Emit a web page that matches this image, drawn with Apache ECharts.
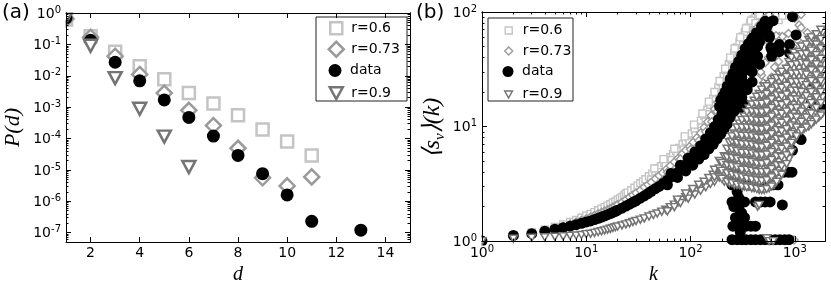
<!DOCTYPE html>
<html><head><meta charset="utf-8">
<script src="https://cdn.jsdelivr.net/npm/echarts@6/dist/echarts.min.js"></script>
<style>html,body{margin:0;padding:0;background:#fff}#c{width:831px;height:290px}</style>
</head><body><div id="c"></div>
<script>
// ---------- Panel (a): P(d) vs d ----------
const aD_r06 = [1,2,3,4,5,6,7,8,9,10,11];
const aP_r06 = [0.62,0.18,0.058,0.020,0.0078,0.0028,0.0013,0.00055,0.000195,0.00008,0.000029];
const aD_r073 = [1,2,3,4,5,6,7,8,9,10,11];
const aP_r073 = [0.65,0.17,0.042,0.011,0.0028,0.00079,0.00026,0.000049,0.0000056,0.0000031,0.000006];
const aD_data = [1,2,3,4,5,6,7,8,9,10,11,13];
const aP_data = [0.7,0.135,0.027,0.0069,0.0017,0.00047,0.00012,0.000029,0.0000076,0.0000016,0.00000023,0.00000012];
const aD_r09 = [1,2,3,4,5,6];
const aP_r09 = [0.72,0.09,0.0084,0.00089,0.000115,0.0000124];
const aXTicks = [2,4,6,8,10,12,14];
const aYDecades = [-7,-6,-5,-4,-3,-2,-1,0];

// ---------- Panel (b): <s_v>(k) vs k, pairs [k, s] ----------
const bR06 = [
[1,1.0],[2,1.12],[3,1.19],[4,1.26],[5,1.33],[6,1.4],[7,1.47],[8,1.53],[9,1.6],[10,1.67],[11,1.73],[12,1.79],[13,1.86],[14,1.92],[15,1.98],[16,2.04],[17,2.1],[18,2.17],[19,2.22],[20,2.3],[21,2.36],[22,2.42],[23,2.5],[24,2.6],[25,2.65],[27,2.78],[29,2.92],[31,3.05],[33,3.2],[35,3.32],[37,3.47],[40,3.68],[43,3.88],[46,4.08],[49,4.3],[52,4.5],[56,4.8],[60,5.1],[64,5.4],[68,5.75],[73,6.1],[78,6.5],[84,7.0],[90,7.5],[96,8.0],[103,8.7],[110,9.4],[118,10.3],[126,11.2],[135,12.5],[145,14],[155,15.5],[165,17.5],[175,19.5],[185,22],[196,24.5],[208,27.5],[220,31],[233,35],[247,39],[262,44],[278,49],[295,55],[313,61],[332,67],[352,73],[374,80],[397,86],[421,92],[447,97],
[42,3.45],[50,4.0],[58,4.6],[66,5.1],[75,5.6],[86,6.3],[98,7.3],[112,8.4],[128,9.8],[140,11],[152,12.8],[170,15.5],[190,19],[205,22],[225,27],[250,33],[270,38],[290,45],[320,52],[345,58],[380,66],[420,75],[470,82],[530,88],
[45,4.3],[55,5.2],[70,6.4],[88,8.2],[108,10.4],[130,13],[150,16.5],[170,20],[190,25],[215,32],[240,40],[265,48],[300,60],[340,72],[380,84],[460,94],
[420,80],[480,72],[540,78],[600,90],[650,95],[700,85],[760,93],[500,62],[560,66],[440,66],[1430,21]
];
const bR073 = [
[1,1.0],[2,1.11],[3,1.17],[4,1.23],[5,1.29],[6,1.35],[7,1.41],[8,1.47],[9,1.52],[10,1.57],[11,1.62],[12,1.68],[13,1.73],[14,1.78],[15,1.83],[16,1.88],[17,1.93],[18,1.98],[19,2.03],[20,2.08],[22,2.18],[24,2.3],[26,2.42],[28,2.52],[30,2.63],[33,2.78],[36,2.95],[39,3.1],[42,3.27],[46,3.5],[50,3.72],[54,3.95],[59,4.25],[64,4.55],[70,4.9],[76,5.3],[83,5.75],[90,6.2],[98,6.7],[106,7.3],[115,8.0],[125,8.8],[135,9.8],[146,11],[158,12.5],[170,14.2],[183,16.2],[196,18.5],[210,21],[225,24],[240,27.5],[256,31],[273,35],[290,39],[310,44],[330,49],[352,54],[375,60],[400,66],[430,72],[460,78],[495,84],[530,90],[570,95],
[60,4.0],[80,5.2],[100,6.3],[120,7.5],[140,9.0],[160,11],[180,13.5],[200,16],[220,19.5],[245,23],[270,28],[300,33],[330,38],[360,44],
[1100,77],[1320,66],[1540,63],[1150,95],[710,61],[790,54],[1060,41],[1320,36],[930,32],[1230,29],[740,24.5],[480,28],[1000,88],[1150,73],[1430,61],[1700,58],[1060,57],[760,61],[830,47],[650,43],[700,37],[890,35],[600,50],[660,62],[560,55],[870,65],[960,50],[1250,48],[1100,22],[960,20],[1750,52],[1850,68],[1300,44],[1600,40],[470,30],[520,36],[560,40],[500,24],[540,20],[600,27],[640,33],[985,1.02]
];
const bData = [
[1,1.0],[2,1.12],[3,1.16],[4,1.22],[5,1.27],[6,1.31],[7,1.35],[8,1.39],[9,1.43],[10,1.47],[11,1.5],[12,1.54],[13,1.58],[14,1.62],[15,1.66],[16,1.7],[17,1.74],[18,1.78],[19,1.82],[20,1.86],[22,1.94],[24,2.02],[26,2.1],[28,2.18],[30,2.25],[33,2.37],[36,2.48],[39,2.6],[42,2.72],[46,2.87],[50,3.0],[55,3.2],[60,3.4],[66,3.65],[72,3.9],[79,4.15],[86,4.45],[94,4.75],[102,5.1],[111,5.5],[120,5.9],[130,6.35],[140,6.9],[150,7.4],[160,8.0],[170,8.7],[180,9.4],[190,10.2],[200,11.2],[212,12.5],[225,14],[240,16],[255,18.5],[270,21],[285,24],[300,27],[318,30],[336,34],[355,38],[375,43],[400,49],[430,56],[460,63],[500,70],[550,77],[620,84],
[60,3.1],[75,3.6],[90,4.1],[105,4.6],[120,5.2],[135,5.7],[150,6.4],[165,7.0],[180,7.8],[195,8.6],[210,9.5],[225,10.5],[240,12],[260,13.5],
[65,3.9],[80,4.6],[95,5.3],[110,6.0],[125,6.8],[140,7.8],[155,8.8],[170,10],[185,11.5],[200,13],[215,15],[230,17.5],[250,21],[265,25],[280,28],[300,32],[320,37],[340,42],[360,46],[380,52],[410,58],
[190,15],[195,17],[205,18.5],[215,20],[225,22.5],[240,26],[255,29],[270,33],[290,37],[310,42],[335,48],[360,53],[390,58],
[250,16],[270,19],[290,22],[310,27],[330,31],[350,35],[380,40],[410,45],[440,50],[300,34],[330,40],[360,46],[400,60],[430,66],[480,75],[520,83],[280,30],[320,24],[350,21],[390,30],[290,20],[310,18],[330,23],[300,14.5],[320,16],[280,17],[370,33],[410,36],[440,41],
[1030,63],[890,52],[710,45],[760,29],[930,28],[1170,44],[1600,23.6],[1800,14.4],[1430,16],[600,41],[600,47],[570,62],[460,55],[530,70],[570,60],[590,49],[460,35],[710,52],[950,91],[1100,42],[890,44],[890,29],[1460,24.5],[390,24.5],[790,23.6],[950,8],[1150,7.7],[950,6.2],[610,5.7],[760,8.4],[1100,8],[660,4.1],[790,19.4],
[600,4.0],[660,4.0],[720,4.0],[790,4.0],[870,4.0],[940,4.0],
[250,3.1],[275,3.1],[300,3.1],[330,3.1],[370,3.1],[410,3.1],[450,3.1],[500,3.1],[560,3.1],[620,3.1],[690,3.1],
[250,2.2],[270,2.2],[300,2.2],[330,2.2],[420,2.2],[470,2.2],[520,2.2],[580,2.2],[760,2.07],
[260,2.0],[290,2.0],[270,1.6],[300,1.6],[330,1.6],
[255,1.35],[280,1.35],[310,1.35],[340,1.35],[380,1.35],[420,1.35],
[250,1.03],[280,1.03],[310,1.03],[340,1.03],[380,1.03],[420,1.03],[470,1.03],[520,1.03],[580,1.03],[650,1.03],[720,1.03],[800,1.03],[880,1.03],
[260,4.2],[270,3.6],[280,2.7],[290,2.4],[300,1.8],[310,1.75],[320,1.5],[300,1.2]
];
const bR09 = [
[1,1.0],[2,1.05],[3,1.07],[4,1.08],[5,1.09],[6,1.1],[7,1.11],[8,1.12],[9,1.13],[10,1.15],[11,1.16],[12,1.18],[13,1.2],[14,1.22],[15,1.24],[16,1.26],[17,1.28],[18,1.3],[19,1.32],[20,1.34],[22,1.37],[24,1.4],[26,1.43],[28,1.47],[30,1.5],[33,1.54],[36,1.58],[40,1.64],[44,1.69],[48,1.74],[53,1.81],[58,1.88],[64,1.98],[70,2.08],[76,2.18],[83,2.3],[90,2.42],[98,2.55],[106,2.68],[115,2.8],[125,2.93],[135,3.05],[146,3.2],[158,3.35],[170,3.5],[183,3.7],[196,3.9],
[60,1.82],[70,1.98],[80,2.15],[95,2.35],[110,2.55],[125,2.75],[140,2.95],[155,3.15],[170,3.3],[75,2.3],[90,2.6],[105,2.85],[120,3.1],[135,3.3],[150,3.55],[165,3.8],
[610,5.1],[300,3.5],[360,3.0],[410,3.3],[440,2.0],[540,1.06],[570,1.0],[620,1.0],[455,2.07]
];
// r=0.9 fan at large k: one k per column, with the s values read in that column
const bR09FanK = [170,189,211,236,263,294,328,366,408,456,509,568,634,707,789,880,982,1096,1223,1365,1523,1700,1850,
                  200,224,250,279,311,347,387,432,482,538,600,670,748,834,930,1040,1160,1290,1440,1610,1780];
const bR09FanS = [
[3.6,4.2],
[3.6,4.3,5.0],
[3.3,3.9,4.6,5.5],
[3.2,3.8,4.5,5.3,6.3,7.3],
[3.1,3.7,4.4,5.2,6.2,7.4,8.7],
[3.1,3.7,4.4,5.3,6.3,7.5,9.0,10.6],
[3.0,3.6,4.3,5.1,6.1,7.3,8.7,10.4,12.2],
[3.0,3.6,4.3,5.1,6.1,7.3,8.7,10.4,12.4,14.4],
[2.9,3.4,4.1,4.9,5.9,7.0,8.4,10.0,12.0,14.3,16.8],
[2.8,3.3,4.0,4.8,5.7,6.8,8.1,9.7,11.6,13.8,16.5,19.3],
[2.8,3.4,4.0,4.8,5.7,6.8,8.1,9.7,11.6,13.8,16.5,19.7,22.5],
[2.9,3.5,4.1,4.9,5.8,6.9,8.3,9.9,11.8,14.1,16.8,20,23.5],
[3.1,3.7,4.4,5.3,6.3,7.5,9.0,10.7,12.8,15.3,18.3,21.8,26],
[3.5,4.1,4.9,5.8,6.9,8.3,9.9,11.8,14.1,16.8,20,24,28.5],
[4.3,5.1,6.1,7.3,8.7,10.4,12.4,14.8,17.7,21,25,30],
[5.2,6.2,7.4,8.8,10.5,12.5,15,18,21.5,25.5,30.5,36.5],
[7.5,9,11,13,15.5,18.5,22,27,32,38,44],
[9,11,13.5,16,19,23,27,32,38,45],
[9.5,12,14.5,18,22,27,33,40,48],
[10,13,17,21,26,32,39,48,57],
[11,14.5,19,24,30,37,45,55],
[12,16,21,26,32,40,50,63],
[13,18,24,30,38,48,66],
[3.5,4.1,4.8],
[3.3,3.9,4.6,5.4,6.4],
[3.2,3.8,4.5,5.3,6.3,7.4,8.2],
[3.1,3.7,4.4,5.2,6.1,7.2,8.5,9.8],
[3.0,3.6,4.2,5.0,5.9,7.0,8.3,9.8,11.4],
[2.95,3.5,4.2,5.0,5.9,7.0,8.3,9.8,11.5,13.4],
[2.9,3.45,4.1,4.9,5.8,6.9,8.2,9.7,11.5,13.6,15.6],
[2.85,3.4,4.0,4.75,5.6,6.7,8.0,9.5,11.3,13.4,15.8,18.2],
[2.8,3.35,4.0,4.7,5.6,6.6,7.9,9.4,11.2,13.3,15.8,18.6,21],
[2.85,3.4,4.0,4.8,5.7,6.8,8.1,9.6,11.4,13.6,16.2,19.2,22.5],
[3.0,3.6,4.25,5.1,6.0,7.2,8.6,10.2,12.2,14.5,17.3,20.6,24.5],
[3.3,3.9,4.6,5.5,6.6,7.8,9.3,11.1,13.2,15.7,18.7,22.3,26.5],
[3.8,4.5,5.4,6.4,7.6,9.1,10.8,12.9,15.4,18.3,21.8,26,30],
[4.7,5.6,6.7,8.0,9.5,11.3,13.5,16,19,22.7,27,32],
[6.0,7.2,8.6,10.2,12.2,14.5,17.3,20.6,24.5,29,34.5,40],
[8.2,9.8,12,14.5,17.2,20.5,24.5,29,35,41],
[9.2,11,13.5,16.5,20,24.5,29.5,36,43,50],
[9.8,12,15,18.5,23,28.5,35,43,52],
[10.5,13,16,20,25,31,38,46,55,60],
[11.5,14.5,18,22.5,28,35,42,52,64],
[12.5,16,20,25,31,39,48,58,70]
];
const bXDecades = [0,1,2,3];
const bYDecades = [0,1,2];

// ---------- build ----------
const FONT = 'DejaVu Sans';
const C06 = '#c4c4c4', C073 = '#9a9a9a', C09 = '#747474';
const TRI = 'path://M0,0L12,0L6,11Z';

function logMinor(lo, hi) {
  const out = [];
  for (let e = Math.floor(lo) - 1; e < Math.ceil(hi); e++)
    for (let m = 2; m <= 9; m++) { const v = e + Math.log10(m); if (v > lo && v < hi) out.push(v); }
  return out;
}
const supRich = {
  b: {fontSize: 14, fontFamily: FONT, color: '#000', verticalAlign: 'bottom'},
  s: {fontSize: 10, fontFamily: FONT, color: '#000', verticalAlign: 'bottom', padding: [0, 0, 6, 0]}
};
function supFmt(v) { return '{b|10}{s|' + Math.round(v) + '}'; }

function ax(grid, pos, min, max, ticks, len, label, extra) {
  const o = {
    type: 'value', gridIndex: grid, position: pos, min: min, max: max, z: 10,
    axisLine: {show: true, onZero: false, lineStyle: {color: '#000', width: 1}},
    splitLine: {show: false},
    axisTick: {show: true, inside: true, length: len, customValues: ticks, lineStyle: {color: '#000', width: 1}},
    axisLabel: label || {show: false}
  };
  return Object.assign(o, extra || {});
}
const aYMin = -7.3, aYMax = 0;
const bXMin = 0, bXMax = 3.29, bYMin = 0, bYMax = 2;
const aYMinor = logMinor(aYMin, aYMax);
const bXMinor = logMinor(bXMin, bXMax);
const bYMinor = logMinor(bYMin, bYMax);
const nameStyle = {fontFamily: 'Liberation Serif', fontStyle: 'italic', fontSize: 20, color: '#000'};

const xAxis = [
  ax(0, 'bottom', 1, 15, aXTicks, 5, {customValues: aXTicks, fontSize: 14, fontFamily: FONT, color: '#000', margin: 4},
     {name: 'd', nameLocation: 'middle', nameGap: 22, nameTextStyle: nameStyle}),
  ax(0, 'top', 1, 15, aXTicks, 5),
  ax(1, 'bottom', bXMin, bXMax, bXDecades, 5, {customValues: bXDecades, formatter: supFmt, rich: supRich, margin: 3},
     {name: 'k', nameLocation: 'middle', nameGap: 22, nameTextStyle: nameStyle}),
  ax(1, 'bottom', bXMin, bXMax, bXMinor, 2.5),
  ax(1, 'top', bXMin, bXMax, bXDecades, 5),
  ax(1, 'top', bXMin, bXMax, bXMinor, 2.5)
];
const yAxis = [
  ax(0, 'left', aYMin, aYMax, aYDecades, 5, {customValues: aYDecades, formatter: supFmt, rich: supRich, margin: 5},
     {name: 'P(d)', nameLocation: 'middle', nameGap: 42, nameTextStyle: Object.assign({}, nameStyle, {fontSize: 22})}),
  ax(0, 'left', aYMin, aYMax, aYMinor, 2.5),
  ax(0, 'right', aYMin, aYMax, aYDecades, 5),
  ax(0, 'right', aYMin, aYMax, aYMinor, 2.5),
  ax(1, 'left', bYMin, bYMax, bYDecades, 5, {customValues: bYDecades, formatter: supFmt, rich: supRich, margin: 5}),
  ax(1, 'left', bYMin, bYMax, bYMinor, 2.5),
  ax(1, 'right', bYMin, bYMax, bYDecades, 5),
  ax(1, 'right', bYMin, bYMax, bYMinor, 2.5)
];

const toA = (ds, ps) => ds.map((d, i) => [d, Math.log10(ps[i])]);
const toB = pts => pts.map(p => [Math.log10(p[0]), Math.log10(p[1])]);
const fanPts = [];
bR09FanK.forEach((k, i) => bR09FanS[i].forEach(s => fanPts.push([k, s])));

function sc(name, data, xi, yi, symbol, size, style, z) {
  return {type: 'scatter', name: name, xAxisIndex: xi, yAxisIndex: yi, data: data, symbol: symbol,
    symbolSize: size, itemStyle: Object.assign({opacity: 1}, style), z: z, emphasis: {disabled: true}, animation: false, large: false};
}
const series = [
  sc('r=0.6', toA(aD_r06, aP_r06), 0, 0, 'rect', 12, {color: '#fff', borderColor: C06, borderWidth: 2.5}, 2),
  sc('r=0.73', toA(aD_r073, aP_r073), 0, 0, 'diamond', 15, {color: '#fff', borderColor: C073, borderWidth: 2.5}, 3),
  sc('data', toA(aD_data, aP_data), 0, 0, 'circle', 13, {color: '#000'}, 4),
  sc('r=0.9', toA(aD_r09, aP_r09), 0, 0, TRI, [13, 12], {color: '#fff', borderColor: C09, borderWidth: 2.5}, 5),
  sc('b:r=0.6', toB(bR06), 2, 4, 'rect', 7, {color: '#fff', borderColor: C06, borderWidth: 1.4}, 2),
  sc('b:r=0.73', toB(bR073), 2, 4, 'diamond', 8, {color: '#fff', borderColor: C073, borderWidth: 1.4}, 3),
  sc('b:data', toB(bData), 2, 4, 'circle', 11, {color: '#000'}, 4),
  sc('b:r=0.9', toB(bR09.concat(fanPts)), 2, 4, TRI, [8, 7], {color: '#fff', borderColor: C09, borderWidth: 1.5}, 5)
];

function lg(name, label, icon, cx, cy, w, h, style, textX) {
  return {show: true, z: 12, data: [{name: name, icon: icon}], left: cx - w / 2, top: cy - h / 2,
    itemWidth: w, itemHeight: h, padding: 0, selectedMode: false, itemStyle: Object.assign({opacity: 1}, style), formatter: label,
    textStyle: {fontSize: 14, fontFamily: FONT, color: '#000', padding: [0, 0, 0, textX - (cx + w / 2) - 5]}};
}
const legend = [
  lg('r=0.6', 'r=0.6', 'rect', 335, 27, 12, 12, {color: '#fff', borderColor: C06, borderWidth: 2.5}, 350),
  lg('r=0.73', 'r=0.73', 'diamond', 335, 48, 15, 15, {color: '#fff', borderColor: C073, borderWidth: 2.5}, 350),
  lg('data', 'data', 'circle', 335, 70, 13, 13, {color: '#000', borderWidth: 0}, 350),
  lg('r=0.9', 'r=0.9', TRI, 335, 92, 13, 12, {color: '#fff', borderColor: C09, borderWidth: 2.5}, 350),
  lg('b:r=0.6', 'r=0.6', 'rect', 508, 27, 7, 7, {color: '#fff', borderColor: C06, borderWidth: 1.4}, 522),
  lg('b:r=0.73', 'r=0.73', 'diamond', 508, 48, 8, 8, {color: '#fff', borderColor: C073, borderWidth: 1.4}, 522),
  lg('b:data', 'data', 'circle', 508, 70, 11, 11, {color: '#000', borderWidth: 0}, 522),
  lg('b:r=0.9', 'r=0.9', TRI, 508, 91, 8, 7, {color: '#fff', borderColor: C09, borderWidth: 1.5}, 522)
];

// white masks outside the plot frames (clip markers like the original)
const mask = (x, y, w, h) => ({type: 'rect', z: 8, silent: true, shape: {x: x, y: y, width: w, height: h}, style: {fill: '#fff', stroke: null}});

const chart = echarts.init(document.getElementById('c'), null, {renderer: 'canvas'});
chart.setOption({
  animation: false,
  backgroundColor: '#fff',
  grid: [
    {left: 66, top: 13, width: 344, height: 232, containLabel: false},
    {left: 482, top: 12, width: 343, height: 233, containLabel: false}
  ],
  xAxis: xAxis,
  yAxis: yAxis,
  legend: legend,
  series: series,
  graphic: [
    mask(40, 0, 25.5, 40), mask(55, 0, 360, 12.5),
    mask(466, 225, 15.5, 30), mask(470, 245.5, 361, 7), mask(470, 0, 361, 11.5), mask(825.5, 0, 6, 260),
    {type: 'rect', z: 9, shape: {x: 316, y: 17, width: 91, height: 84}, style: {fill: 'none', stroke: '#222', lineWidth: 1}},
    {type: 'rect', z: 1, shape: {x: 488, y: 18, width: 85, height: 83}, style: {fill: '#fff', stroke: '#222', lineWidth: 1}},
    {type: 'text', z: 20, left: 2, top: 3, style: {text: '(a)', font: '20px "DejaVu Sans"', fill: '#000'}},
    {type: 'text', z: 20, left: 416, top: 3, style: {text: '(b)', font: '20px "DejaVu Sans"', fill: '#000'}},
    {type: 'text', z: 20, x: 434, y: 128, rotation: Math.PI / 2, style: {
      text: '{n|⟨s}{sub|v}{n|⟩(k)}', align: 'center', verticalAlign: 'middle',
      rich: {
        n: {fontFamily: 'Liberation Serif', fontStyle: 'italic', fontSize: 24, fill: '#000', verticalAlign: 'top', lineHeight: 27},
        sub: {fontFamily: 'Liberation Serif', fontStyle: 'italic', fontSize: 15, fill: '#000', verticalAlign: 'top', lineHeight: 15, padding: [12, 0, 0, 0]}
      }}}
  ]
});
</script>
</body></html>
